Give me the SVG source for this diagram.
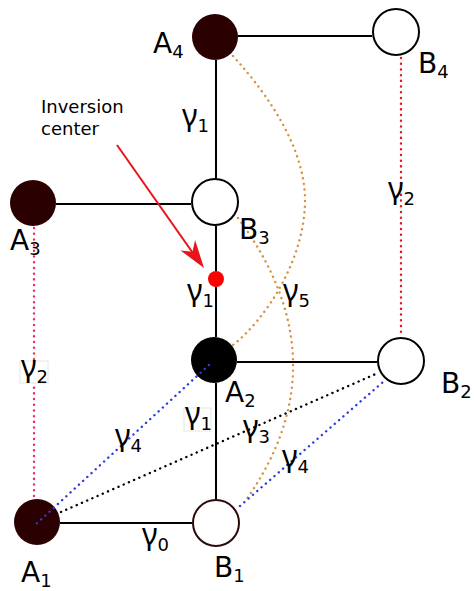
<svg xmlns="http://www.w3.org/2000/svg" width="474" height="591" viewBox="0 0 474 591">
<style>
.bg{fill:#ffffff}
.solid{stroke:#000;stroke-width:2;fill:none}
.dot{fill:none;stroke-width:2.4;stroke-linecap:round;stroke-dasharray:0.1 5.6}
.pink{stroke:#ee2a66}
.red{stroke:#e8141c}
.orange{stroke:#d69140}
.blue{stroke:#2b3fd6}
.black{stroke:#000}
.nA{fill:#2b0000}
.nA2{fill:#000}
.nB{fill:#fff;stroke:#000;stroke-width:2}
.nB1{fill:#fff;stroke:#2b0a0a;stroke-width:2}
.lbl{font-family:"DejaVu Sans","Liberation Sans",sans-serif;font-size:28px;fill:#000}
.g{font-family:"Noto Sans","DejaVu Sans",sans-serif;font-size:30px}
.sub{font-family:"DejaVu Sans","Liberation Sans",sans-serif;font-size:18px}
.note{font-family:"DejaVu Sans","Liberation Sans",sans-serif;font-size:18px;fill:#000}
.box{fill:#fff;stroke:#e6e6e6;stroke-width:1}
</style>
<rect class="bg" x="0" y="0" width="474" height="591"/>
<g id="nodes">
<g id="A4"><circle class="nA" cx="215" cy="37" r="23"/></g>
<g id="B4"><circle class="nB" cx="396" cy="32" r="23"/></g>
<g id="A3"><circle class="nA" cx="33" cy="203" r="23"/></g>
<g id="B3"><circle class="nB" cx="215" cy="202" r="23"/></g>
<g id="A2"><circle class="nA2" cx="214" cy="360" r="23"/></g>
<g id="B2"><circle class="nB" cx="401" cy="361" r="23"/></g>
<g id="A1"><circle class="nA" cx="37" cy="522" r="23"/></g>
<g id="B1"><circle class="nB1" cx="216" cy="523" r="23"/></g>
</g>
<g id="connectors">
<line class="solid" x1="238" y1="36" x2="372" y2="36"/>
<line class="solid" x1="216" y1="60" x2="216" y2="178"/>
<line class="solid" x1="56" y1="204" x2="191" y2="204"/>
<line class="solid" x1="216" y1="226" x2="216" y2="337"/>
<line class="solid" x1="237" y1="362" x2="377" y2="362"/>
<line class="solid" x1="216" y1="383" x2="216" y2="499"/>
<line class="solid" x1="60" y1="523" x2="192" y2="523"/>
<line class="dot red" x1="401" y1="58" x2="401" y2="337"/>
<line class="dot pink" x1="34" y1="228" x2="34" y2="499"/>
<path class="dot orange" d="M233,56 C255,80 305,140 305,200 C305,260 265,320 233,345"/>
<path class="dot orange" d="M238,218 Q344,361 246,500"/>
<line class="dot black" x1="61" y1="512" x2="378" y2="373"/>
<line class="dot blue" x1="209" y1="365" x2="34" y2="526"/>
<line class="dot blue" x1="240" y1="506" x2="383" y2="382"/>
<line x1="117" y1="145" x2="195" y2="256" stroke="#e8141c" stroke-width="2"/>
<polygon points="204,268 195.1,240 192.5,251.7 180.5,250.4" fill="#e8141c"/>
</g>
<g id="inversion-center"><circle cx="216" cy="279" r="8" fill="#ff0000"/></g>
<g id="labels">
<text class="lbl" x="153" y="53">A<tspan class="sub" dy="5">4</tspan></text>
<text class="lbl" x="418" y="73">B<tspan class="sub" dy="5">4</tspan></text>
<text class="lbl" x="10" y="250">A<tspan class="sub" dy="5">3</tspan></text>
<text class="lbl" x="239" y="239">B<tspan class="sub" dy="5">3</tspan></text>
<text class="lbl" x="225" y="402">A<tspan class="sub" dy="5">2</tspan></text>
<text class="lbl" x="441" y="393">B<tspan class="sub" dy="5">2</tspan></text>
<text class="lbl" x="21" y="582">A<tspan class="sub" dy="5">1</tspan></text>
<text class="lbl" x="214" y="577">B<tspan class="sub" dy="5">1</tspan></text>
<text class="note" x="41" y="113">Inversion</text>
<text class="note" x="41" y="135">center</text>
<text class="lbl" x="182" y="126"><tspan class="g">γ</tspan><tspan class="sub" dy="6">1</tspan></text>
<text class="lbl" x="187" y="301"><tspan class="g">γ</tspan><tspan class="sub" dy="6">1</tspan></text>
<text class="lbl" x="283" y="301"><tspan class="g">γ</tspan><tspan class="sub" dy="6">5</tspan></text>
<text class="lbl" x="388" y="199"><tspan class="g">γ</tspan><tspan class="sub" dy="6">2</tspan></text>
<rect class="box" x="20" y="361" width="28" height="22"/>
<text class="lbl" x="21" y="377"><tspan class="g">γ</tspan><tspan class="sub" dy="6">2</tspan></text>
<rect class="box" x="184" y="408" width="27" height="23"/>
<text class="lbl" x="185" y="424"><tspan class="g">γ</tspan><tspan class="sub" dy="6">1</tspan></text>
<text class="lbl" x="243" y="437"><tspan class="g">γ</tspan><tspan class="sub" dy="6">3</tspan></text>
<text class="lbl" x="282" y="467"><tspan class="g">γ</tspan><tspan class="sub" dy="6">4</tspan></text>
<text class="lbl" x="115" y="446"><tspan class="g">γ</tspan><tspan class="sub" dy="6">4</tspan></text>
<text class="lbl" x="142" y="545"><tspan class="g">γ</tspan><tspan class="sub" dy="6">0</tspan></text>
</g>
</svg>
